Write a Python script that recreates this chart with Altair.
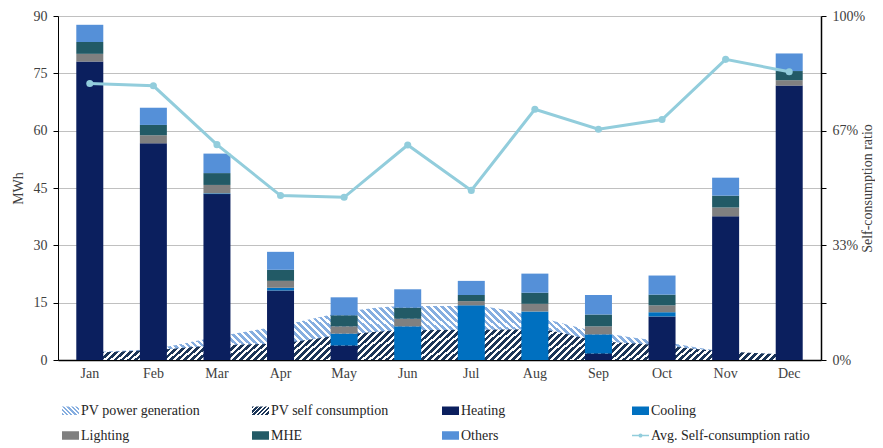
import altair as alt
import pandas as pd

# ---------------- data ----------------
months = ["Jan", "Feb", "Mar", "Apr", "May", "Jun", "Jul", "Aug", "Sep", "Oct", "Nov", "Dec"]

heating  = [78.1, 56.7, 43.4, 18.2, 3.8, 0.0, 0.0, 0.0, 1.7, 11.4, 37.6, 71.8]
cooling  = [0.0, 0.0, 0.2, 0.7, 3.1, 8.8, 14.3, 12.7, 5.0, 1.1, 0.0, 0.0]
lighting = [2.0, 2.1, 2.2, 1.8, 1.9, 2.0, 1.1, 2.0, 2.1, 1.8, 2.3, 1.4]
mhe      = [3.1, 2.7, 3.1, 2.9, 2.9, 2.9, 1.6, 2.9, 3.1, 2.8, 3.1, 2.4]
others   = [4.5, 4.5, 5.1, 4.7, 4.7, 4.8, 3.7, 5.0, 5.1, 5.0, 4.7, 4.6]

pv_generation = [2.1, 3.0, 6.1, 9.0, 12.5, 14.1, 14.1, 11.4, 7.3, 4.8, 2.3, 1.5]
pv_self       = [1.9, 2.6, 3.8, 4.4, 6.6, 7.8, 7.9, 8.0, 5.1, 3.8, 2.2, 1.5]
ratio         = [0.804, 0.797, 0.626, 0.478, 0.473, 0.625, 0.493, 0.729, 0.671, 0.699, 0.874, 0.838]

y_ticks = [0, 15, 30, 45, 60, 75, 90]
ratio_ticks = [0, 1 / 6, 2 / 6, 3 / 6, 4 / 6, 5 / 6, 1]

legend_names = ["PV power generation", "PV self consumption", "Heating", "Cooling",
                "Lighting", "MHE", "Others", "Avg. Self-consumption ratio"]
bar_names = ["Heating", "Cooling", "Lighting", "MHE", "Others"]
bar_series = [heating, cooling, lighting, mhe, others]

# ---------------- styles ----------------
FONT = "Liberation Serif"
TXT = "#404040"
C_HEAT, C_COOL, C_LIGHT, C_MHE, C_OTH = "#0b1f5e", "#0070c0", "#808080", "#225a66", "#5590d8"
C_LINE = "#92cddc"
C_PVGEN = "#86aee0"
C_PVSELF = "#1c3658"

W, H = 763, 344
STEP = W / 12


def stripe_params(w, h, period, frac, color, bg, back):
    n = max(1, round((w + h) / period))
    k = (w + h) / (w * w + h * h)
    if back:   # "\" stripes
        x1, y1, x2, y2 = 0, 1, w * k, 1 - h * k
    else:      # "/" stripes
        x1, y1, x2, y2 = 0, 0, w * k, h * k
    stops = []
    for i in range(n):
        a, b, c = i / n, (i + frac) / n, (i + 1) / n
        stops += [(a, color), (b, color), (b, bg), (c, bg)]
    return x1, y1, x2, y2, stops


def stripe_gradient(w, h, period, frac, color, bg, back):
    x1, y1, x2, y2, stops = stripe_params(w, h, period, frac, color, bg, back)
    return alt.LinearGradient(
        gradient="linear", x1=x1, y1=y1, x2=x2, y2=y2,
        stops=[alt.GradientStop(offset=round(o, 5), color=c) for o, c in stops])


def stripe_expr(w, h, period, frac, color, bg, back):
    x1, y1, x2, y2, stops = stripe_params(w, h, period, frac, color, bg, back)
    st = ",".join("{offset:%s,color:'%s'}" % (round(o, 5), c) for o, c in stops)
    return "{gradient:'linear',x1:%s,y1:%s,x2:%s,y2:%s,stops:[%s]}" % (
        round(x1, 5), round(y1, 5), round(x2, 5), round(y2, 5), st)


# ---------------- tables ----------------
bars_rows = []
for order, (name, vals) in enumerate(zip(bar_names, bar_series)):
    for m, v in zip(months, vals):
        bars_rows.append({"month": m, "cat": name, "value": v, "ord": order})
bars_df = pd.DataFrame(bars_rows)
pv_df = pd.DataFrame({"month": months, "gen": pv_generation, "self": pv_self})
line_df = pd.DataFrame({"month": months, "ratio": ratio})

area_w = 11 * STEP
gen_h = max(pv_generation) * H / 90 + 2
self_h = max(pv_self) * H / 90 + 2

x_axis = alt.Axis(title=None, labelAngle=0, ticks=False, domain=True, domainColor="black",
                  domainWidth=1.5, labelFont=FONT, labelFontSize=14, labelColor=TXT,
                  labelPadding=6, grid=False)
x_enc = alt.X("month:N", sort=months, bandPosition=0.5,
              scale=alt.Scale(paddingInner=1 - 27 / STEP), axis=x_axis)

y_scale = alt.Scale(domain=[0, 90], nice=False, zero=True)
y_axis = alt.Axis(values=y_ticks, title="MWh", orient="left", grid=True, gridColor="#c0c0c0",
                  gridWidth=1, domainColor="black", domainWidth=1, tickColor="black", tickSize=5,
                  labelFont=FONT, labelFontSize=14, labelColor=TXT, labelPadding=6,
                  titleFont=FONT, titleFontSize=14, titleFontWeight="normal", titleColor=TXT,
                  titlePadding=8, labelOverlap=False)

gen_area = alt.Chart(pv_df).mark_area(
    interpolate="monotone",
    color=stripe_gradient(area_w, gen_h, 7.0, 0.55, C_PVGEN, "#ffffff", True),
).encode(x=x_enc, y=alt.Y("gen:Q", scale=y_scale, axis=y_axis))

self_area = alt.Chart(pv_df).mark_area(
    interpolate="monotone",
    color=stripe_gradient(area_w, self_h, 7.0, 0.55, C_PVSELF, "#ffffff", False),
).encode(x=x_enc, y=alt.Y("self:Q", scale=y_scale))

sym_rect = "M-1,-0.5H1V0.5H-1Z"
sym_line = ("M-1,-0.08H1V0.08H-1Z M0.24,0A0.24,0.24,0,1,1,-0.24,0A0.24,0.24,0,1,1,0.24,0Z")

color_range = [
    {"expr": stripe_expr(17, 8.5, 4.5, 0.55, C_PVGEN, "#ffffff", True)},
    {"expr": stripe_expr(17, 8.5, 4.5, 0.55, C_PVSELF, "#ffffff", False)},
    C_HEAT, C_COOL, C_LIGHT, C_MHE, C_OTH, C_LINE,
]

legend = alt.Legend(
    title=None, orient="none", legendX=4, legendY=386, direction="horizontal",
    columns=4, gridAlign="all", columnPadding=12, rowPadding=9,
    symbolType=alt.ExprRef(expr="datum.label == 'Avg. Self-consumption ratio' ? '%s' : '%s'"
                                % (sym_line, sym_rect)),
    symbolSize=289, symbolStrokeWidth=0, symbolOpacity=1, symbolOffset=0, labelOffset=2,
    labelFont=FONT, labelFontSize=14, labelColor="#262626", labelLimit=300,
)

bars = alt.Chart(bars_df).mark_bar(size=27).encode(
    x=x_enc,
    y=alt.Y("value:Q", stack="zero", scale=y_scale),
    color=alt.Color("cat:N", scale=alt.Scale(domain=legend_names, range=color_range),
                    legend=legend),
    order=alt.Order("ord:Q", sort="ascending"),
)

r_axis = alt.Axis(orient="right", values=ratio_ticks, grid=False,
                  labelExpr="abs(datum.value*3 - round(datum.value*3)) < 0.01 ? format(datum.value, '.0%') : ''",
                  title="Self-consumption ratio", titleAngle=270, titleBaseline="bottom",
                  domainColor="black", domainWidth=1.5, tickColor="black", tickSize=5,
                  labelFont=FONT, labelFontSize=14, labelColor=TXT, labelPadding=6,
                  titleFont=FONT, titleFontSize=14, titleFontWeight="normal", titleColor=TXT,
                  titlePadding=10, labelOverlap=False)

line = alt.Chart(line_df).mark_line(
    color=C_LINE, strokeWidth=3,
    point=alt.OverlayMarkDef(color=C_LINE, filled=True, size=50, opacity=1),
).encode(
    x=x_enc,
    y=alt.Y("ratio:Q", scale=alt.Scale(domain=[0, 1], nice=False), axis=r_axis),
)

left = alt.layer(gen_area, self_area, bars)
chart = alt.layer(left, line).resolve_scale(y="independent").properties(
    width=W, height=H,
    padding={"left": 50, "top": 8, "right": 54, "bottom": 84},
    autosize=alt.AutoSizeParams(type="none"),
).configure_view(stroke=None).configure(background="white")

chart.save("out.html", embed_options={"renderer": "svg", "actions": False})
